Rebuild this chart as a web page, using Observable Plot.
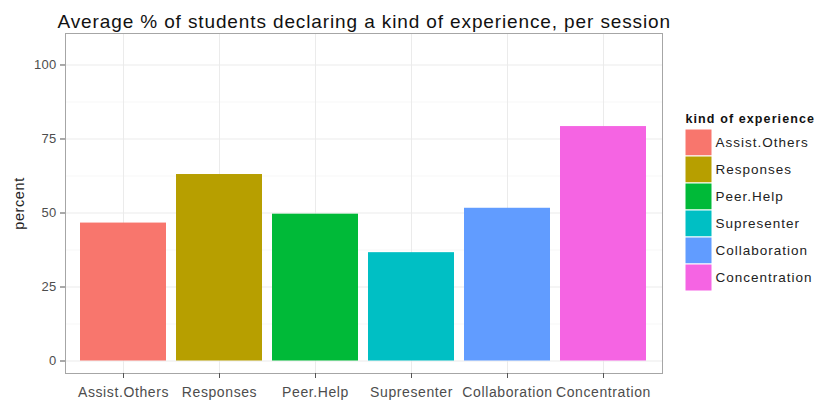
<!DOCTYPE html>
<html>
<head>
<meta charset="utf-8">
<script src="https://cdn.jsdelivr.net/npm/d3@7"></script>
<script src="https://cdn.jsdelivr.net/npm/@observablehq/plot@0.6"></script>
<style>
  html, body { margin: 0; padding: 0; background: #fff; }
  #wrap { position: relative; width: 816px; height: 403px; overflow: hidden; font-family: "Liberation Sans", Arial, sans-serif; }
  #legend { position: absolute; left: 684px; top: 107px; }
</style>
</head>
<body>
<div id="wrap"><div id="chart"></div><div id="legend"></div></div>
<script>
const title = "Average % of students declaring a kind of experience, per session";
const yLabel = "percent";
const legendTitle = "kind of experience";
const categories = ["Assist.Others", "Responses", "Peer.Help", "Supresenter", "Collaboration", "Concentration"];
const values = [46.6, 63.0, 49.6, 36.6, 51.6, 79.2];
const colors = ["#F8766D", "#B79F00", "#00BA38", "#00BFC4", "#619CFF", "#F564E3"];
const yTicks = [0, 25, 50, 75, 100];
const yMinor = [12.5, 37.5, 62.5, 87.5];

const data = categories.map((c, i) => ({category: c, value: values[i]}));
const font = "'Liberation Sans', Arial, sans-serif";

function spacing(root, label, px) {
  d3.select(root).selectAll(`g[aria-label="${label}"] text, text[aria-label="${label}"]`).attr("letter-spacing", px);
}

const chart = Plot.plot({
  width: 816,
  height: 403,
  marginLeft: 65,
  marginRight: 154,
  marginTop: 33,
  marginBottom: 30,
  style: {fontFamily: font, background: "#fff", overflow: "visible"},
  x: {type: "band", domain: categories, paddingInner: 0.1, paddingOuter: 0.15, label: null},
  y: {domain: [-4.22, 110.64], label: null},
  color: {domain: categories, range: colors},
  marks: [
    Plot.gridY(yMinor, {stroke: "#f7f7f7", strokeOpacity: 1, strokeWidth: 1}),
    Plot.gridY(yTicks, {stroke: "#ebebeb", strokeOpacity: 1, strokeWidth: 1}),
    Plot.gridX(categories, {stroke: "#ebebeb", strokeOpacity: 1, strokeWidth: 1}),
    Plot.barY(data, {x: "category", y: "value", fill: "category"}),
    Plot.frame({stroke: "#a6a6a6", strokeWidth: 1}),
    Plot.axisY(yTicks, {tickSize: 5, tickPadding: 4, fontSize: 13, fill: "#4d4d4d", stroke: "#555", label: null}),
    Plot.axisX(categories, {tickSize: 5, tickPadding: 9, fontSize: 14, fill: "#4d4d4d", stroke: "#555", label: null}),
    Plot.text([yLabel], {ariaLabel: () => "ylabel", frameAnchor: "left", dx: -46, dy: 0, rotate: -90, textAnchor: "middle", fontSize: 14.5, fill: "#222", text: d => d}),
    Plot.text([title], {ariaLabel: () => "title", frameAnchor: "top-left", dx: -8, dy: -12, textAnchor: "start", lineAnchor: "middle", fontSize: 19, fill: "#111", text: d => d})
  ]
});
document.getElementById("chart").appendChild(chart);
spacing(chart, "title", "0.88px");
spacing(chart, "x-axis tick label", "0.6px");
spacing(chart, "y-axis tick label", "0.3px");
spacing(chart, "ylabel", "0.6px");

const legend = Plot.plot({
  width: 132,
  height: 186,
  marginLeft: 1,
  marginRight: 104,
  marginTop: 20,
  marginBottom: 0,
  style: {fontFamily: font, background: "transparent", overflow: "visible"},
  x: {axis: null},
  y: {type: "band", domain: categories, padding: 0, axis: null},
  color: {domain: categories, range: colors},
  marks: [
    Plot.cell(categories, {y: d => d, fill: d => d, stroke: "#fff", strokeWidth: 1}),
    Plot.text(categories, {ariaLabel: () => "legend label", y: d => d, frameAnchor: "right", dx: 3, textAnchor: "start", fontSize: 13.5, fill: "#222", text: d => d}),
    Plot.text([legendTitle], {ariaLabel: () => "legend title", frameAnchor: "top-left", dx: 0, dy: -9, textAnchor: "start", lineAnchor: "middle", fontSize: 12.5, fontWeight: "bold", fill: "#111", text: d => d})
  ]
});
document.getElementById("legend").appendChild(legend);
spacing(legend, "legend label", "1px");
spacing(legend, "legend title", "1.1px");
</script>
</body>
</html>
